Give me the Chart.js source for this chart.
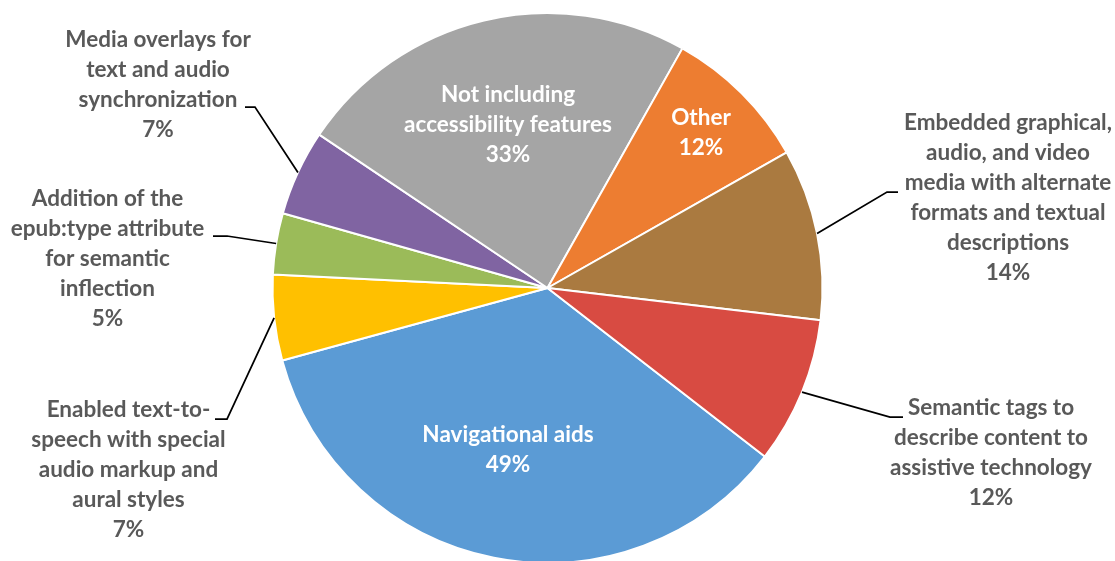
<!DOCTYPE html>
<html>
<head>
<meta charset="utf-8">
<script src="https://cdn.jsdelivr.net/npm/chart.js"></script>
<style>
  html, body { margin: 0; padding: 0; background: #fff; }
  #wrap { width: 1115px; height: 561px; position: relative; }
</style>
</head>
<body>
<div id="wrap"><canvas id="pie" width="1115" height="561"></canvas></div>
<script>
// Survey: accessibility features included in EPUB titles (share of respondents)
const categories = [
  'Navigational aids',
  'Enabled text-to-speech with special audio markup and aural styles',
  'Addition of the epub:type attribute for semantic inflection',
  'Media overlays for text and audio synchronization',
  'Not including accessibility features',
  'Other',
  'Embedded graphical, audio, and video media with alternate formats and textual descriptions',
  'Semantic tags to describe content to assistive technology'
];
const values = [49, 7, 5, 7, 33, 12, 14, 12];

// Category names broken into the lines shown in each data label
const labelLines = [
  ['Navigational aids'],
  ['Enabled text-to-', 'speech with special', 'audio markup and', 'aural styles'],
  ['Addition of the', 'epub:type attribute', 'for semantic', 'inflection'],
  ['Media overlays for', 'text and audio', 'synchronization'],
  ['Not including', 'accessibility features'],
  ['Other'],
  ['Embedded graphical,', 'audio, and video', 'media with alternate', 'formats and textual', 'descriptions'],
  ['Semantic tags to', 'describe content to', 'assistive technology']
];

const colors = ['#5B9BD5', '#FFC000', '#9BBB59', '#8064A2', '#A5A5A5', '#ED7D31', '#AA7A40', '#D84B42'];

// Label placement: text block centre, first line y, and leader stub (text end -> elbow)
const labelLayout = [
  { cx: 508, y: 435, inside: true },
  { cx: 128.5, y: 410, stub: [215, 419, 227, 419] },
  { cx: 107.5, y: 199, stub: [213, 236, 227, 236] },
  { cx: 158, y: 40, stub: [245, 107, 255, 107] },
  { cx: 508, y: 95, inside: true },
  { cx: 701, y: 118, inside: true },
  { cx: 1008, y: 123, stub: [898, 192, 887, 192] },
  { cx: 991, y: 408, stub: [903, 417, 890, 417] }
];

const FONT = 'bold 22.5px Lato';
const LINE_H = 30;

const sliceLabels = {
  id: 'sliceLabels',
  afterDatasetsDraw(chart) {
    const ctx = chart.ctx;
    const meta = chart.getDatasetMeta(0);
    meta.data.forEach((arc, i) => {
      const spec = labelLayout[i];
      const p = arc.getProps(['x', 'y', 'startAngle', 'endAngle', 'outerRadius'], true);
      ctx.save();
      if (spec.stub) {
        const mid = (p.startAngle + p.endAngle) / 2;
        const ex = p.x + Math.cos(mid) * p.outerRadius;
        const ey = p.y + Math.sin(mid) * p.outerRadius;
        ctx.strokeStyle = '#000';
        ctx.lineWidth = 1.75;
        ctx.beginPath();
        ctx.moveTo(spec.stub[0], spec.stub[1]);
        ctx.lineTo(spec.stub[2], spec.stub[3]);
        ctx.lineTo(ex, ey);
        ctx.stroke();
      }
      const lines = labelLines[i].concat([values[i] + '%']);
      ctx.font = FONT;
      ctx.fillStyle = spec.inside ? '#FFFFFF' : '#595959';
      ctx.textAlign = 'center';
      ctx.textBaseline = 'middle';
      lines.forEach((t, k) => ctx.fillText(t, spec.cx, spec.y + k * LINE_H));
      ctx.restore();
    });
  }
};

new Chart(document.getElementById('pie'), {
  type: 'pie',
  data: {
    labels: categories,
    datasets: [{
      data: values,
      backgroundColor: colors,
      borderColor: '#FFFFFF',
      borderWidth: 2
    }]
  },
  options: {
    responsive: false,
    animation: false,
    rotation: 127.8,
    radius: 275,
    layout: { padding: { left: 0, right: 20, top: 15, bottom: 0 } },
    plugins: {
      legend: { display: false },
      tooltip: { enabled: false }
    }
  },
  plugins: [sliceLabels]
});
</script>
</body>
</html>
